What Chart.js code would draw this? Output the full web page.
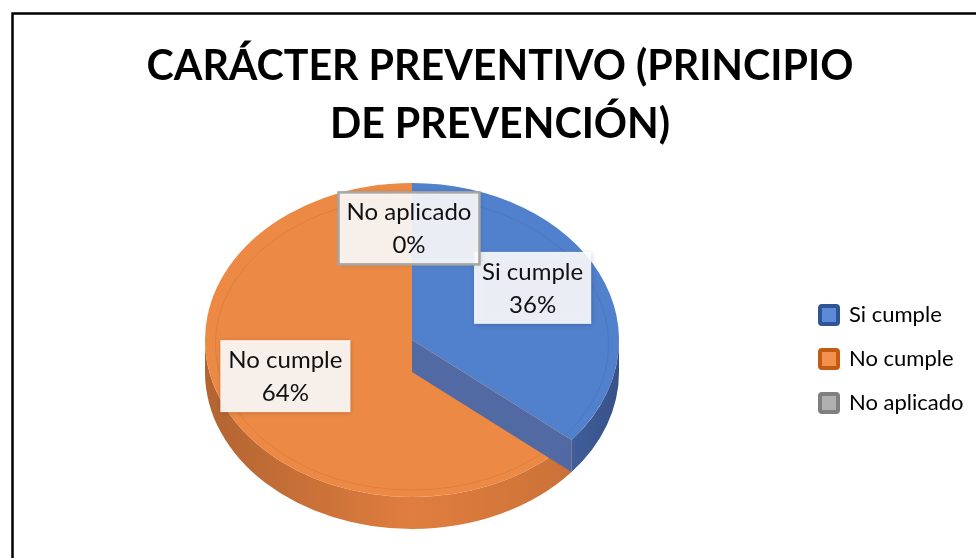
<!DOCTYPE html>
<html>
<head>
<meta charset="utf-8">
<script src="https://cdn.jsdelivr.net/npm/chart.js@4.4.1/dist/chart.umd.min.js"></script>
<style>
html,body{margin:0;padding:0;background:#fff;}
#wrap{width:976px;height:558px;}
</style>
</head>
<body>
<div id="wrap"><canvas id="c" width="976" height="558"></canvas></div>
<script>
// ---- data ----
const categories = ['Si cumple', 'No cumple', 'No aplicado'];
const values = [36, 64, 0];
const titleLines = ['CARÁCTER PREVENTIVO (PRINCIPIO', 'DE PREVENCIÓN)'];

// ---- style / geometry ----
const G = {cx: 412, cy: 340, rx: 207, ry: 157, depth: 32, labelFrac: 0.66};
const STYLE = {
  top: ['#5181CC', '#EC8A45', '#A5A5A5'],
  wall: ['#4A6DB3', '#E4803F', '#8C8C8C'],
  face: ['#4A68AA', '#C96A2E', '#7F7F7F'],
  legendFill: ['#5B8BD6', '#F29150', '#B0B0B0'],
  legendBorder: ['#2F5597', '#C55A11', '#7F7F7F'],
  font: 'Lato'
};

const mc = document.createElement('canvas').getContext('2d');
mc.font = 'bold 100px ' + STYLE.font;
const titleSize = 100 * 707 / mc.measureText(titleLines[0]).width;
const LEG_PAD = 22, LEG_BOX = 18, LEG_FONT = 22;
mc.font = LEG_FONT + 'px ' + STYLE.font;
const legTextW = Math.max(...categories.map(c => mc.measureText(c).width));
const legBoxX = 830;
const padR = Math.max(0, 976 - (legBoxX - LEG_PAD) - (LEG_PAD + LEG_BOX + LEG_FONT / 2 + legTextW));
const padL = padR + 24;

function frontIntervals(s, e) {
  const out = [];
  for (const k of [-1, 0, 1]) {
    const lo = Math.max(s, k * 2 * Math.PI), hi = Math.min(e, k * 2 * Math.PI + Math.PI);
    if (hi > lo + 1e-6) out.push([lo, hi]);
  }
  return out;
}

const framePlugin = {
  id: 'frame',
  beforeDraw(chart) {
    const ctx = chart.ctx;
    ctx.save();
    ctx.fillStyle = '#fff';
    ctx.fillRect(0, 0, chart.width, chart.height);
    ctx.strokeStyle = '#000';
    ctx.lineWidth = 2.5;
    ctx.strokeRect(12.5, 13.5, 1000, 600);
    ctx.restore();
  }
};

const pie3d = {
  id: 'pie3d',
  beforeDatasetsDraw(chart) {
    const ctx = chart.ctx;
    const arcs = chart.getDatasetMeta(0).data;
    arcs.forEach((arc, i) => {
      if (arc.endAngle - arc.startAngle <= 1e-6) return;
      frontIntervals(arc.startAngle, arc.endAngle).forEach(([a1, a2]) => {
        ctx.save();
        ctx.beginPath();
        ctx.ellipse(G.cx, G.cy, G.rx, G.ry, 0, a1, a2, false);
        ctx.lineTo(G.cx + G.rx * Math.cos(a2), G.cy + G.depth + G.ry * Math.sin(a2));
        ctx.ellipse(G.cx, G.cy + G.depth, G.rx, G.ry, 0, a2, a1, true);
        ctx.closePath();
        ctx.fillStyle = STYLE.wall[i];
        ctx.fill();
        const gr = ctx.createLinearGradient(G.cx - G.rx, 0, G.cx + G.rx, 0);
        gr.addColorStop(0, 'rgba(0,0,0,0.22)');
        gr.addColorStop(0.5, 'rgba(0,0,0,0.02)');
        gr.addColorStop(0.85, 'rgba(0,0,0,0.10)');
        gr.addColorStop(1, 'rgba(0,0,0,0.25)');
        ctx.fillStyle = gr;
        ctx.fill();
        ctx.restore();
      });
    });
    const a0 = arcs[0];
    const R = a0.outerRadius;
    ctx.save();
    ctx.translate(G.cx, G.cy);
    ctx.scale(G.rx / R, G.ry / R);
    ctx.translate(-a0.x, -a0.y);
  },
  afterDatasetsDraw(chart) {
    const ctx = chart.ctx;
    ctx.restore();
    const arcs = chart.getDatasetMeta(0).data;
    ctx.save();
    ctx.strokeStyle = 'rgba(0,0,0,0.07)';
    ctx.lineWidth = 1;
    ctx.beginPath();
    ctx.ellipse(G.cx, G.cy + 4, G.rx * 0.95, G.ry * 0.93, 0, 0, 2 * Math.PI);
    ctx.stroke();
    ctx.restore();
    arcs.forEach((arc, i) => {
      if (arc.endAngle - arc.startAngle <= 1e-6) return;
      [[arc.endAngle, Math.cos(arc.endAngle) > 0.01], [arc.startAngle, Math.cos(arc.startAngle) < -0.01]].forEach(([a, vis]) => {
        if (!vis) return;
        const px = G.cx + G.rx * Math.cos(a), py = G.cy + G.ry * Math.sin(a);
        ctx.save();
        ctx.beginPath();
        ctx.moveTo(G.cx, G.cy);
        ctx.lineTo(px, py);
        ctx.lineTo(px, py + G.depth);
        ctx.lineTo(G.cx, G.cy + G.depth);
        ctx.closePath();
        ctx.globalAlpha = 0.95;
        ctx.fillStyle = STYLE.face[i];
        ctx.fill();
        ctx.restore();
      });
    });
    const total = values.reduce((a, b) => a + b, 0);
    arcs.forEach((arc, i) => {
      const m = (arc.startAngle + arc.endAngle) / 2;
      const x = G.cx + G.rx * G.labelFrac * Math.cos(m) - 3;
      const y = G.cy + G.ry * G.labelFrac * Math.sin(m) - 8;
      const l1 = categories[i];
      const l2 = Math.round(values[i] / total * 100) + '%';
      ctx.save();
      ctx.font = '24px ' + STYLE.font;
      const w = Math.max(ctx.measureText(l1).width, ctx.measureText(l2).width) + 16;
      const h = 72;
      ctx.shadowColor = 'rgba(0,0,0,0.25)';
      ctx.shadowBlur = 5;
      ctx.shadowOffsetX = 1;
      ctx.shadowOffsetY = 1;
      ctx.fillStyle = 'rgba(255,255,255,0.89)';
      ctx.fillRect(x - w / 2, y - h / 2, w, h);
      ctx.shadowColor = 'transparent';
      if (values[i] === 0) {
        ctx.strokeStyle = '#A6A6A6';
        ctx.lineWidth = 2.5;
        ctx.strokeRect(x - w / 2, y - h / 2, w, h);
      }
      ctx.fillStyle = '#111';
      ctx.textAlign = 'center';
      ctx.textBaseline = 'middle';
      ctx.fillText(l1, x, y - 16);
      ctx.fillText(l2, x, y + 17);
      ctx.restore();
    });
  }
};

new Chart(document.getElementById('c'), {
  type: 'pie',
  data: {
    labels: categories,
    datasets: [{
      data: values,
      backgroundColor: STYLE.top,
      borderWidth: 0,
      clip: false
    }]
  },
  options: {
    responsive: false,
    animation: false,
    events: [],
    layout: {padding: {left: padL, right: padR, top: 0, bottom: 0}},
    plugins: {
      tooltip: {enabled: false},
      title: {
        display: true,
        text: titleLines,
        color: '#000',
        font: {family: STYLE.font, weight: 'bold', size: titleSize, lineHeight: '58px'},
        padding: {top: 38, bottom: 6}
      },
      legend: {
        display: true,
        position: 'right',
        align: 'center',
        fullSize: false,
        labels: {
          boxWidth: LEG_BOX,
          boxHeight: LEG_BOX,
          padding: LEG_PAD,
          color: '#000',
          useBorderRadius: true,
          font: {family: STYLE.font, size: LEG_FONT},
          generateLabels: () => categories.map((c, i) => ({
            text: c,
            fillStyle: STYLE.legendFill[i],
            strokeStyle: STYLE.legendBorder[i],
            lineWidth: 4,
            borderRadius: 2,
            hidden: false,
            index: i
          }))
        }
      }
    }
  },
  plugins: [framePlugin, pie3d]
});
</script>
</body>
</html>
